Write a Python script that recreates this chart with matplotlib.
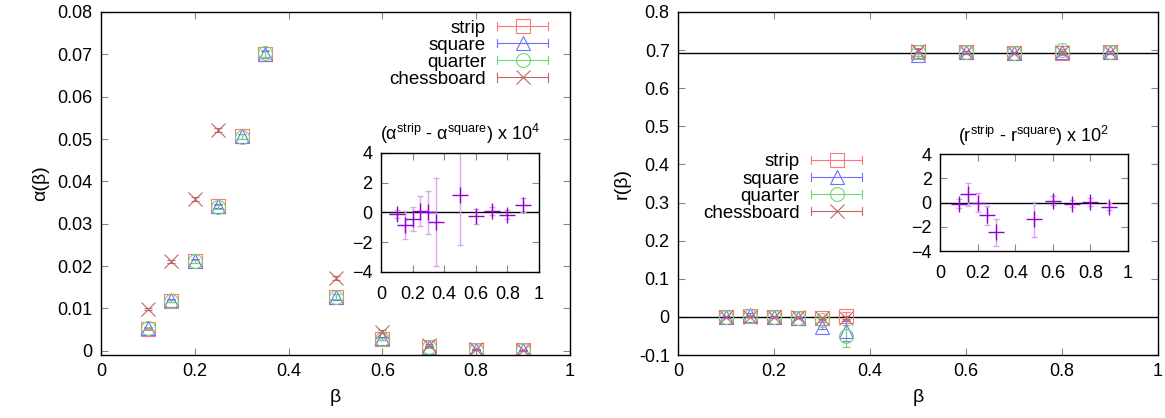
import matplotlib
matplotlib.use("Agg")
import matplotlib.pyplot as plt
from matplotlib.lines import Line2D
from matplotlib.legend_handler import HandlerBase
import numpy as np

plt.rcParams['font.family'] = ['Liberation Sans', 'DejaVu Sans']
plt.rcParams['font.size'] = 13
plt.rcParams['mathtext.fontset'] = 'custom'
plt.rcParams['mathtext.rm'] = 'Liberation Sans'

beta = [0.1, 0.15, 0.2, 0.25, 0.3, 0.35, 0.5, 0.6, 0.7, 0.8, 0.9]

# left panel: alpha(beta)
alpha_strip = [0.0052, 0.0118, 0.0212, 0.0341, 0.0506, 0.0700, 0.0127, 0.0028, 0.0010, 0.0003, 0.0001]
alpha_square = [0.0053, 0.0119, 0.0212, 0.0341, 0.0506, 0.0701, 0.0127, 0.0029, 0.0010, 0.0003, 0.0001]
alpha_quarter = [0.0053, 0.0118, 0.0211, 0.0340, 0.0505, 0.0702, 0.0128, 0.0028, 0.0009, 0.0002, 0.0001]
alpha_chess_beta = [0.1, 0.15, 0.2, 0.25, 0.5, 0.6, 0.7, 0.8, 0.9]
alpha_chess = [0.0098, 0.0211, 0.0358, 0.0521, 0.0172, 0.0045, 0.0013, 0.0004, 0.0001]
alpha_err = [0.0002, 0.0003, 0.0004, 0.0005, 0.0006, 0.0008, 0.0006, 0.0003, 0.0002, 0.0001, 0.0001]
alpha_chess_err = [0.0002, 0.0003, 0.0004, 0.0005, 0.0005, 0.0003, 0.0002, 0.0001, 0.0001]

# left inset: (alpha_strip - alpha_square) x 1e4
dalpha = [-0.1, -0.85, -0.45, 0.1, 0.0, -0.65, 1.2, -0.25, 0.1, -0.15, 0.5]
dalpha_err = [0.25, 0.95, 0.8, 1.0, 1.45, 2.95, 3.4, 0.5, 0.25, 0.3, 0.5]

# right panel: r(beta)
r_strip = [0.0, 0.002, 0.0, -0.002, -0.004, 0.003, 0.695, 0.694, 0.693, 0.692, 0.694]
r_square = [0.0, 0.006, 0.0, -0.002, -0.027, -0.037, 0.688, 0.695, 0.693, 0.694, 0.694]
r_quarter = [0.0, 0.003, -0.001, -0.002, -0.008, -0.050, 0.694, 0.694, 0.692, 0.700, 0.695]
r_chess = [0.0, 0.001, 0.0, -0.001, -0.002, -0.002, 0.697, 0.694, 0.693, 0.695, 0.695]
r_err_strip = [0.002, 0.002, 0.002, 0.003, 0.005, 0.010, 0.010, 0.003, 0.003, 0.004, 0.003]
r_err_square = [0.002, 0.003, 0.002, 0.003, 0.006, 0.025, 0.008, 0.003, 0.003, 0.003, 0.003]
r_err_quarter = [0.002, 0.003, 0.002, 0.003, 0.006, 0.028, 0.010, 0.003, 0.003, 0.004, 0.003]
r_err_chess = [0.002, 0.002, 0.002, 0.002, 0.003, 0.004, 0.005, 0.003, 0.003, 0.003, 0.003]
ln2 = np.log(2)

# right inset: (r_strip - r_square) x 1e2
dr_beta = [0.1, 0.15, 0.2, 0.25, 0.3, 0.5, 0.6, 0.7, 0.8, 0.9]
dr = [-0.1, 0.7, 0.0, -1.05, -2.45, -1.4, 0.15, -0.1, 0.05, -0.35]
dr_err = [0.35, 0.95, 0.8, 0.8, 1.1, 1.45, 0.35, 0.3, 0.35, 0.3]

labels = ['strip', 'square', 'quarter', 'chessboard']
c_strip = '#ff7878'
c_square = '#6f6fff'
c_quarter = '#6fd86f'
c_chess = '#c06868'
colors = [c_strip, c_square, c_quarter, c_chess]
markers = ['s', '^', 'o', 'x']
c_inset = '#9400d3'
c_inset_err = '#d9a6ef'


class ErrHandler(HandlerBase):
    def create_artists(self, legend, orig_handle, xdescent, ydescent,
                       width, height, fontsize, trans):
        col = orig_handle.get_color()
        mk = orig_handle.get_marker()
        x0 = -xdescent
        y = height / 2.0 - ydescent
        cap = 0.22 * fontsize
        arts = [
            Line2D([x0, x0 + width], [y, y], color=col, lw=0.8),
            Line2D([x0, x0], [y - cap, y + cap], color=col, lw=0.8),
            Line2D([x0 + width, x0 + width], [y - cap, y + cap], color=col, lw=0.8),
            Line2D([x0 + width / 2.0], [y], marker=mk, ms=10, mfc='none',
                   mec=col, mew=0.8, linestyle='none'),
        ]
        for a in arts:
            a.set_transform(trans)
        return arts


fig = plt.figure(figsize=(11.65, 4.18), dpi=100)
axL = fig.add_axes([0.0867, 0.1507, 0.4026, 0.8206])
axR = fig.add_axes([0.582, 0.1507, 0.412, 0.8206])
insL = fig.add_axes([0.327, 0.3493, 0.1356, 0.2847])
insR = fig.add_axes([0.8069, 0.3995, 0.1614, 0.232])


def style(ax, xpad=6):
    ax.tick_params(direction='in', top=True, right=True, length=5, width=0.8,
                   color='#888888', labelsize=13, pad=6)
    ax.tick_params(axis='x', pad=xpad)
    for s in ax.spines.values():
        s.set_linewidth(1.0)


def series(ax, x, y, e, color, marker):
    ax.errorbar(x, y, yerr=e, fmt=marker, mfc='none', mec=color, color=color,
                ms=10, mew=0.8, elinewidth=0.8, capsize=3, capthick=0.8,
                ecolor=color, linestyle='none')


def add_legend(ax, anchor):
    handles = [Line2D([], [], color=c, marker=m) for c, m in zip(colors, markers)]
    leg = ax.legend(handles, labels, loc='upper right', bbox_to_anchor=anchor,
                    frameon=False, markerfirst=False, handlelength=2.7,
                    handletextpad=0.6, labelspacing=0.0, fontsize=13.5,
                    borderaxespad=0.0, borderpad=0.0,
                    handler_map={Line2D: ErrHandler()})
    return leg


ticks01 = [0, 0.2, 0.4, 0.6, 0.8, 1]
ticks01_lbl = ['0', '0.2', '0.4', '0.6', '0.8', '1']

# left main
series(axL, beta, alpha_strip, alpha_err, c_strip, 's')
series(axL, beta, alpha_square, alpha_err, c_square, '^')
series(axL, beta, alpha_quarter, alpha_err, c_quarter, 'o')
series(axL, alpha_chess_beta, alpha_chess, alpha_chess_err, c_chess, 'x')
axL.set_xlim(0, 1)
axL.set_ylim(-0.001, 0.08)
axL.set_xticks(ticks01)
axL.set_xticklabels(ticks01_lbl)
yl = [0, 0.01, 0.02, 0.03, 0.04, 0.05, 0.06, 0.07, 0.08]
axL.set_yticks(yl)
axL.set_yticklabels(['0', '0.01', '0.02', '0.03', '0.04', '0.05', '0.06', '0.07', '0.08'])
axL.set_xlabel('β', fontsize=14, labelpad=6)
axL.set_ylabel('α(β)', fontsize=14, labelpad=6)
style(axL)
add_legend(axL, (0.953, 0.978))

# left inset
insL.axhline(0, color='black', lw=1.0)
insL.errorbar(beta, dalpha, yerr=dalpha_err, fmt='+', color=c_inset, ms=12, mew=1.0,
              ecolor=c_inset_err, elinewidth=1.0, capsize=2.5, capthick=1.0)
insL.set_xlim(0, 1)
insL.set_ylim(-4, 4)
insL.set_xticks(ticks01)
insL.set_xticklabels(ticks01_lbl)
insL.set_yticks([-4, -2, 0, 2, 4])
style(insL, xpad=10)
insL.set_title('(α$^{\\rm strip}$ - α$^{\\rm square}$) x 10$^4$', fontsize=13, pad=9)

# right main
axR.axhline(0, color='black', lw=1.0)
axR.axhline(ln2, color='black', lw=1.0)
series(axR, beta, r_strip, r_err_strip, c_strip, 's')
series(axR, beta, r_square, r_err_square, c_square, '^')
series(axR, beta, r_quarter, r_err_quarter, c_quarter, 'o')
series(axR, beta, r_chess, r_err_chess, c_chess, 'x')
axR.set_xlim(0, 1)
axR.set_ylim(-0.1, 0.8)
axR.set_xticks(ticks01)
axR.set_xticklabels(ticks01_lbl)
axR.set_yticks([-0.1, 0, 0.1, 0.2, 0.3, 0.4, 0.5, 0.6, 0.7, 0.8])
axR.set_yticklabels(['-0.1', '0', '0.1', '0.2', '0.3', '0.4', '0.5', '0.6', '0.7', '0.8'])
axR.set_xlabel('β', fontsize=14, labelpad=6)
axR.set_ylabel('r(β)', fontsize=14, labelpad=6)
style(axR)
add_legend(axR, (0.383, 0.588))

# right inset
insR.axhline(0, color='black', lw=1.0)
insR.errorbar(dr_beta, dr, yerr=dr_err, fmt='+', color=c_inset, ms=12, mew=1.0,
              ecolor=c_inset_err, elinewidth=1.0, capsize=2.5, capthick=1.0)
insR.set_xlim(0, 1)
insR.set_ylim(-4, 4)
insR.set_xticks(ticks01)
insR.set_xticklabels(ticks01_lbl)
insR.set_yticks([-4, -2, 0, 2, 4])
style(insR, xpad=10)
insR.set_title('(r$^{\\rm strip}$ - r$^{\\rm square}$) x 10$^2$', fontsize=13, pad=9)

fig.savefig('out.png', dpi=100)
